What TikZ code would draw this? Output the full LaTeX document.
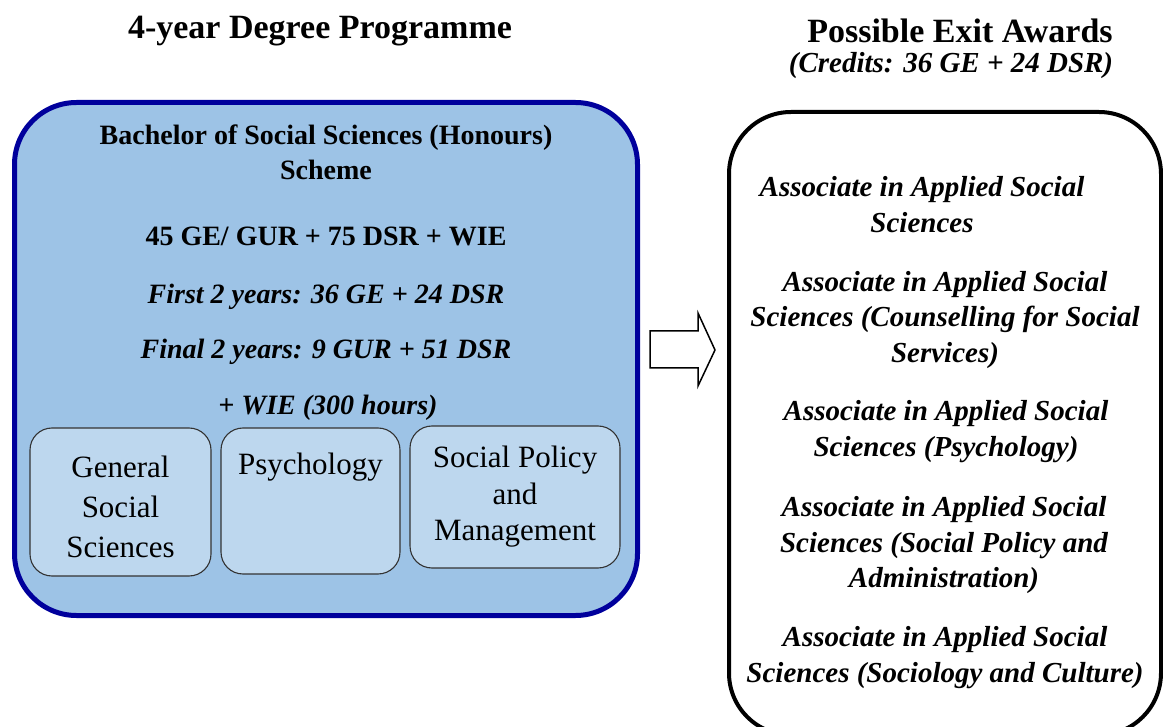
\documentclass[tikz,border=0pt]{standalone}
\usepackage{fontspec}
\setmainfont{Liberation Serif}
\usepackage{tikz}
\usetikzlibrary{positioning}

\definecolor{progblue}{HTML}{9DC3E6}
\definecolor{paleblue}{HTML}{BDD7EE}
\definecolor{rimblue}{HTML}{00009C}

\begin{document}
\begin{tikzpicture}[
  x=1pt, y=-1pt,
  title/.style={font=\fontsize{34}{40}\selectfont\bfseries},
  sub/.style={font=\fontsize{29}{35}\selectfont\bfseries\itshape},
  line/.style={align=center, font=\fontsize{28}{35}\selectfont\bfseries},
  award/.style={align=center, font=\fontsize{29}{35.5}\selectfont\bfseries\itshape},
  prog/.style={draw=rimblue, line width=5pt, fill=progblue, rounded corners=62pt, minimum width=623pt, minimum height=513pt},
  exits/.style={draw=black, line width=4pt, rounded corners=62pt, minimum width=432pt, minimum height=623pt},
  major/.style={draw=black!80, line width=1.1pt, fill=paleblue, rounded corners=22pt, align=center, inner sep=0pt, font=\fontsize{31}{40}\selectfont}
]
\useasboundingbox (0,0) rectangle (1163,727);

\node[title] (lhead) at (320,31) {4-year Degree Programme};
\node[title] (rhead) at (960,31) {Possible Exit Awards};
\node[sub] (credits) at (951,66) {(Credits: 36 GE + 24 DSR)};

\node[prog] (scheme) at (326,359) {};
\node[line] (bss) at (326,152) {Bachelor of Social Sciences (Honours)\\ Scheme};
\node[line] (total) at (326,236) {45 GE/ GUR + 75 DSR + WIE};
\node[line, font=\fontsize{28}{35}\selectfont\bfseries\itshape] (first) at (326,297) {First 2 years: 36 GE + 24 DSR};
\node[line, font=\fontsize{28}{35}\selectfont\bfseries\itshape] (final) at (326,352) {Final 2 years: 9 GUR + 51 DSR};
\node[line, font=\fontsize{28}{35}\selectfont\bfseries\itshape] (wie) at (328,408) {+ WIE (300 hours)};

\node[major, minimum width=181pt, minimum height=148pt, text height=112pt] (gss) at (120.5,502) {General\\ Social\\ Sciences};
\node[major, minimum width=179pt, minimum height=146pt, text height=21pt, text depth=73pt, inner ysep=26pt] (psy) at (310.5,501) {Psychology};
\node[major, minimum width=210pt, minimum height=142pt, font=\fontsize{31}{36.5}\selectfont] (spm) at (515,497) {Social Policy\\ and\\ Management};

\draw[line width=1.5pt, line join=miter] (650,331) -- (698,331) -- (698,313) -- (715,350) -- (698,386) -- (698,368) -- (650,368) -- cycle;

\node[exits] (awards) at (945,423.5) {};
\node[award] (ass) at (922,204.5) {Associate in Applied Social\\ Sciences};
\node[award] (csl) at (945,320) {Associate in Applied Social\\ Sciences (Counselling for Social\\ Services)};
\node[award] (psych) at (946,431.5) {Associate in Applied Social\\ Sciences (Psychology)};
\node[award] (spa) at (944,545.5) {Associate in Applied Social\\ Sciences (Social Policy and\\ Administration)};
\node[award] (soc) at (945,657.5) {Associate in Applied Social\\ Sciences (Sociology and Culture)};
\end{tikzpicture}
\end{document}
